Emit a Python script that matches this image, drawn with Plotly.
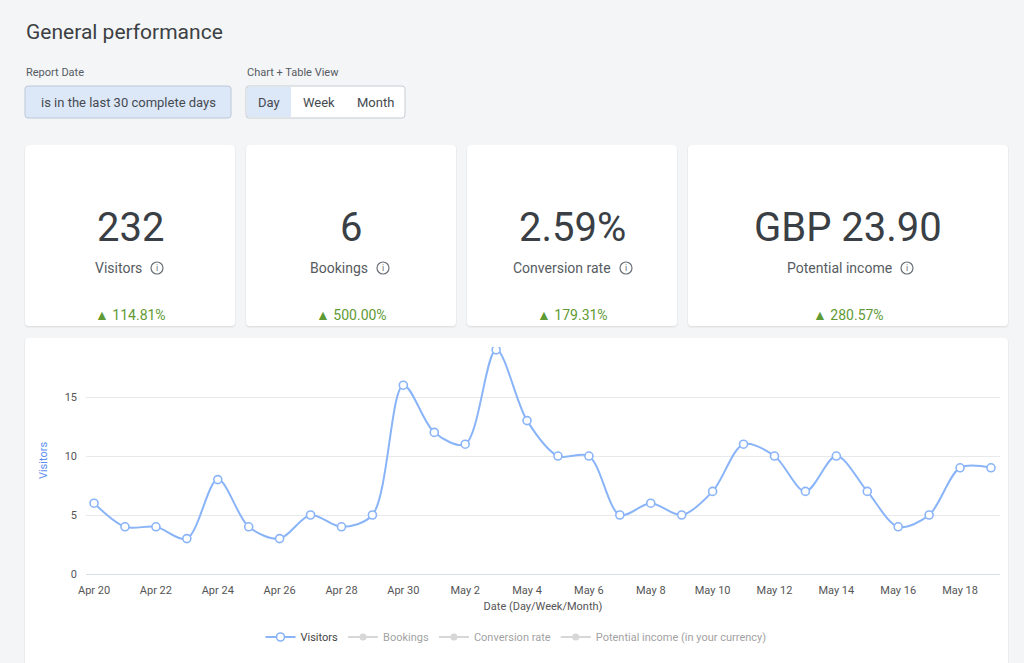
import plotly.graph_objects as go

# ---------------- data ----------------
dates = ["2024-04-20", "2024-04-21", "2024-04-22", "2024-04-23", "2024-04-24",
         "2024-04-25", "2024-04-26", "2024-04-27", "2024-04-28", "2024-04-29",
         "2024-04-30", "2024-05-01", "2024-05-02", "2024-05-03", "2024-05-04",
         "2024-05-05", "2024-05-06", "2024-05-07", "2024-05-08", "2024-05-09",
         "2024-05-10", "2024-05-11", "2024-05-12", "2024-05-13", "2024-05-14",
         "2024-05-15", "2024-05-16", "2024-05-17", "2024-05-18", "2024-05-19"]
visitors = [6, 4, 4, 3, 8, 4, 3, 5, 4, 5,
            16, 12, 11, 19, 13, 10, 10, 5, 6, 5,
            7, 11, 10, 7, 10, 7, 4, 5, 9, 9]
hidden_series = ["Bookings", "Conversion rate", "Potential income (in your currency)"]

kpi_values = ["232", "6", "2.59%", "GBP 23.90"]
kpi_labels = ["Visitors", "Bookings", "Conversion rate", "Potential income"]
kpi_changes = ["114.81%", "500.00%", "179.31%", "280.57%"]

view_options = ["Day", "Week", "Month"]

# ---------------- helpers ----------------
W, H = 1024, 663
def X(px): return px / W
def Y(py): return 1 - py / H

def rrect(x0, y0, x1, y1, r):
    rx, ry = r / W, r / H
    a, b, c, d = X(x0), Y(y0), X(x1), Y(y1)
    return (f"M {a+rx},{b} L {c-rx},{b} Q {c},{b} {c},{b-ry} "
            f"L {c},{d+ry} Q {c},{d} {c-rx},{d} L {a+rx},{d} "
            f"Q {a},{d} {a},{d+ry} L {a},{b-ry} Q {a},{b} {a+rx},{b} Z")

FONT = "Roboto, 'Noto Sans', sans-serif"
BLUE = "#8ab4f8"
shapes, annotations = [], []

def card(x0, y0, x1, y1):
    shapes.append(dict(type="path", path=rrect(x0 - 1, y0, x1 + 1, y1 + 2, 5), xref="paper", yref="paper",
                       fillcolor="rgba(0,0,0,0.035)", line=dict(width=0), layer="below"))
    shapes.append(dict(type="path", path=rrect(x0, y0, x1, y1 + 1, 4), xref="paper", yref="paper",
                       fillcolor="rgba(0,0,0,0.04)", line=dict(width=0), layer="below"))
    shapes.append(dict(type="path", path=rrect(x0, y0, x1, y1, 4), xref="paper", yref="paper",
                       fillcolor="white", line=dict(width=0), layer="below"))

def text(x, y, s, size, color, anchor="center"):
    annotations.append(dict(x=X(x), y=Y(y), xref="paper", yref="paper", text=s, showarrow=False,
                            xanchor=anchor, yanchor="middle", borderpad=0,
                            font=dict(family=FONT, size=size, color=color)))

# ---------------- header ----------------
text(25, 32, "General performance", 21, "#3c4043", "left")
text(25, 72, "Report Date", 11, "#555b63", "left")
text(246, 72, "Chart + Table View", 11, "#555b63", "left")

shapes.append(dict(type="path", path=rrect(25, 86, 231, 118, 3), xref="paper", yref="paper",
                   fillcolor="#dce7f8", line=dict(color="#bcc8da", width=1), layer="below"))
text(128, 102, "is in the last 30 complete days", 13, "#454a50")

shapes.append(dict(type="path", path=rrect(246, 86, 405, 118, 3), xref="paper", yref="paper",
                   fillcolor="white", line=dict(color="#c7ccd3", width=1), layer="below"))
shapes.append(dict(type="rect", x0=X(247), x1=X(291), y0=Y(117), y1=Y(87), xref="paper", yref="paper",
                   fillcolor="#dce7f8", line=dict(width=0), layer="below"))
for lbl, cx in zip(view_options, [269, 319, 375]):
    text(cx, 102, lbl, 13, "#454a50")

# ---------------- KPI cards ----------------
card_x = [(25, 235), (246, 456), (467, 677), (688, 1008)]
icon_x = [157, 383, 626, 907]
for (x0, x1), val, lbl, chg, ix in zip(card_x, kpi_values, kpi_labels, kpi_changes, icon_x):
    card(x0, 145, x1, 326)
    cx = (x0 + x1) / 2
    text(cx, 227, val, 40, "#3a3f45")
    text(ix - 14, 268, lbl, 14, "#565b62", "right")
    shapes.append(dict(type="circle", xref="paper", yref="paper",
                       x0=X(ix - 6), x1=X(ix + 6), y0=Y(274), y1=Y(262),
                       line=dict(color="#6b7077", width=1.2), fillcolor="rgba(0,0,0,0)"))
    text(ix, 268, "i", 9, "#6b7077")
    text(cx, 315, "▲ " + chg, 14, "#5f9a35")

# ---------------- chart card ----------------
card(25, 338, 1008, 680)

fig = go.Figure()
fig.add_trace(go.Scatter(
    x=dates, y=visitors, name="Visitors", mode="lines+markers",
    line=dict(color=BLUE, width=2, shape="spline", smoothing=0.9),
    marker=dict(size=8, color="white", line=dict(color=BLUE, width=1.6)),
))
for name in hidden_series:
    fig.add_trace(go.Scatter(
        x=dates, y=[None] * len(dates), name=name, mode="lines+markers", visible="legendonly",
        line=dict(color="#b0b0b0", width=2),
        marker=dict(size=7, color="#b0b0b0"),
    ))

fig.update_layout(
    width=W, height=H,
    margin=dict(l=0, r=0, t=0, b=0, pad=0, autoexpand=False),
    paper_bgcolor="#f4f5f7",
    plot_bgcolor="rgba(0,0,0,0)",
    font=dict(family=FONT, size=11, color="#555"),
    shapes=shapes,
    annotations=annotations,
    showlegend=True,
    legend=dict(orientation="h", x=X(516), xanchor="center", y=Y(637), yanchor="middle",
                font=dict(family=FONT, size=11, color="#444"), itemwidth=30,
                bgcolor="rgba(0,0,0,0)"),
    xaxis=dict(
        domain=[X(86), X(1000)], automargin=False,
        range=["2024-04-19 17:45", "2024-05-19 07:00"],
        type="date", tickformat="%b %-d", tick0="2024-04-20", dtick=2 * 86400000,
        showgrid=False, zeroline=False, showline=True, linecolor="#d9dee6", linewidth=1,
        ticks="", ticklabelstandoff=6,
        tickfont=dict(family=FONT, size=11, color="#555"),
        title=dict(text="Date (Day/Week/Month)", standoff=6,
                   font=dict(family=FONT, size=11, color="#555")),
        fixedrange=True,
    ),
    yaxis=dict(
        domain=[Y(574), Y(347)], automargin=False,
        range=[0, 19.24],
        tickvals=[0, 5, 10, 15],
        showgrid=True, gridcolor="#e8e9ec", gridwidth=1,
        zeroline=False, showline=False,
        ticks="", ticklabelstandoff=8,
        tickfont=dict(family=FONT, size=11, color="#555"),
        title=dict(text="Visitors", standoff=14,
                   font=dict(family=FONT, size=11, color="#5b8def")),
        fixedrange=True,
    ),
)

fig.write_html("out.html", config={"displayModeBar": False})
